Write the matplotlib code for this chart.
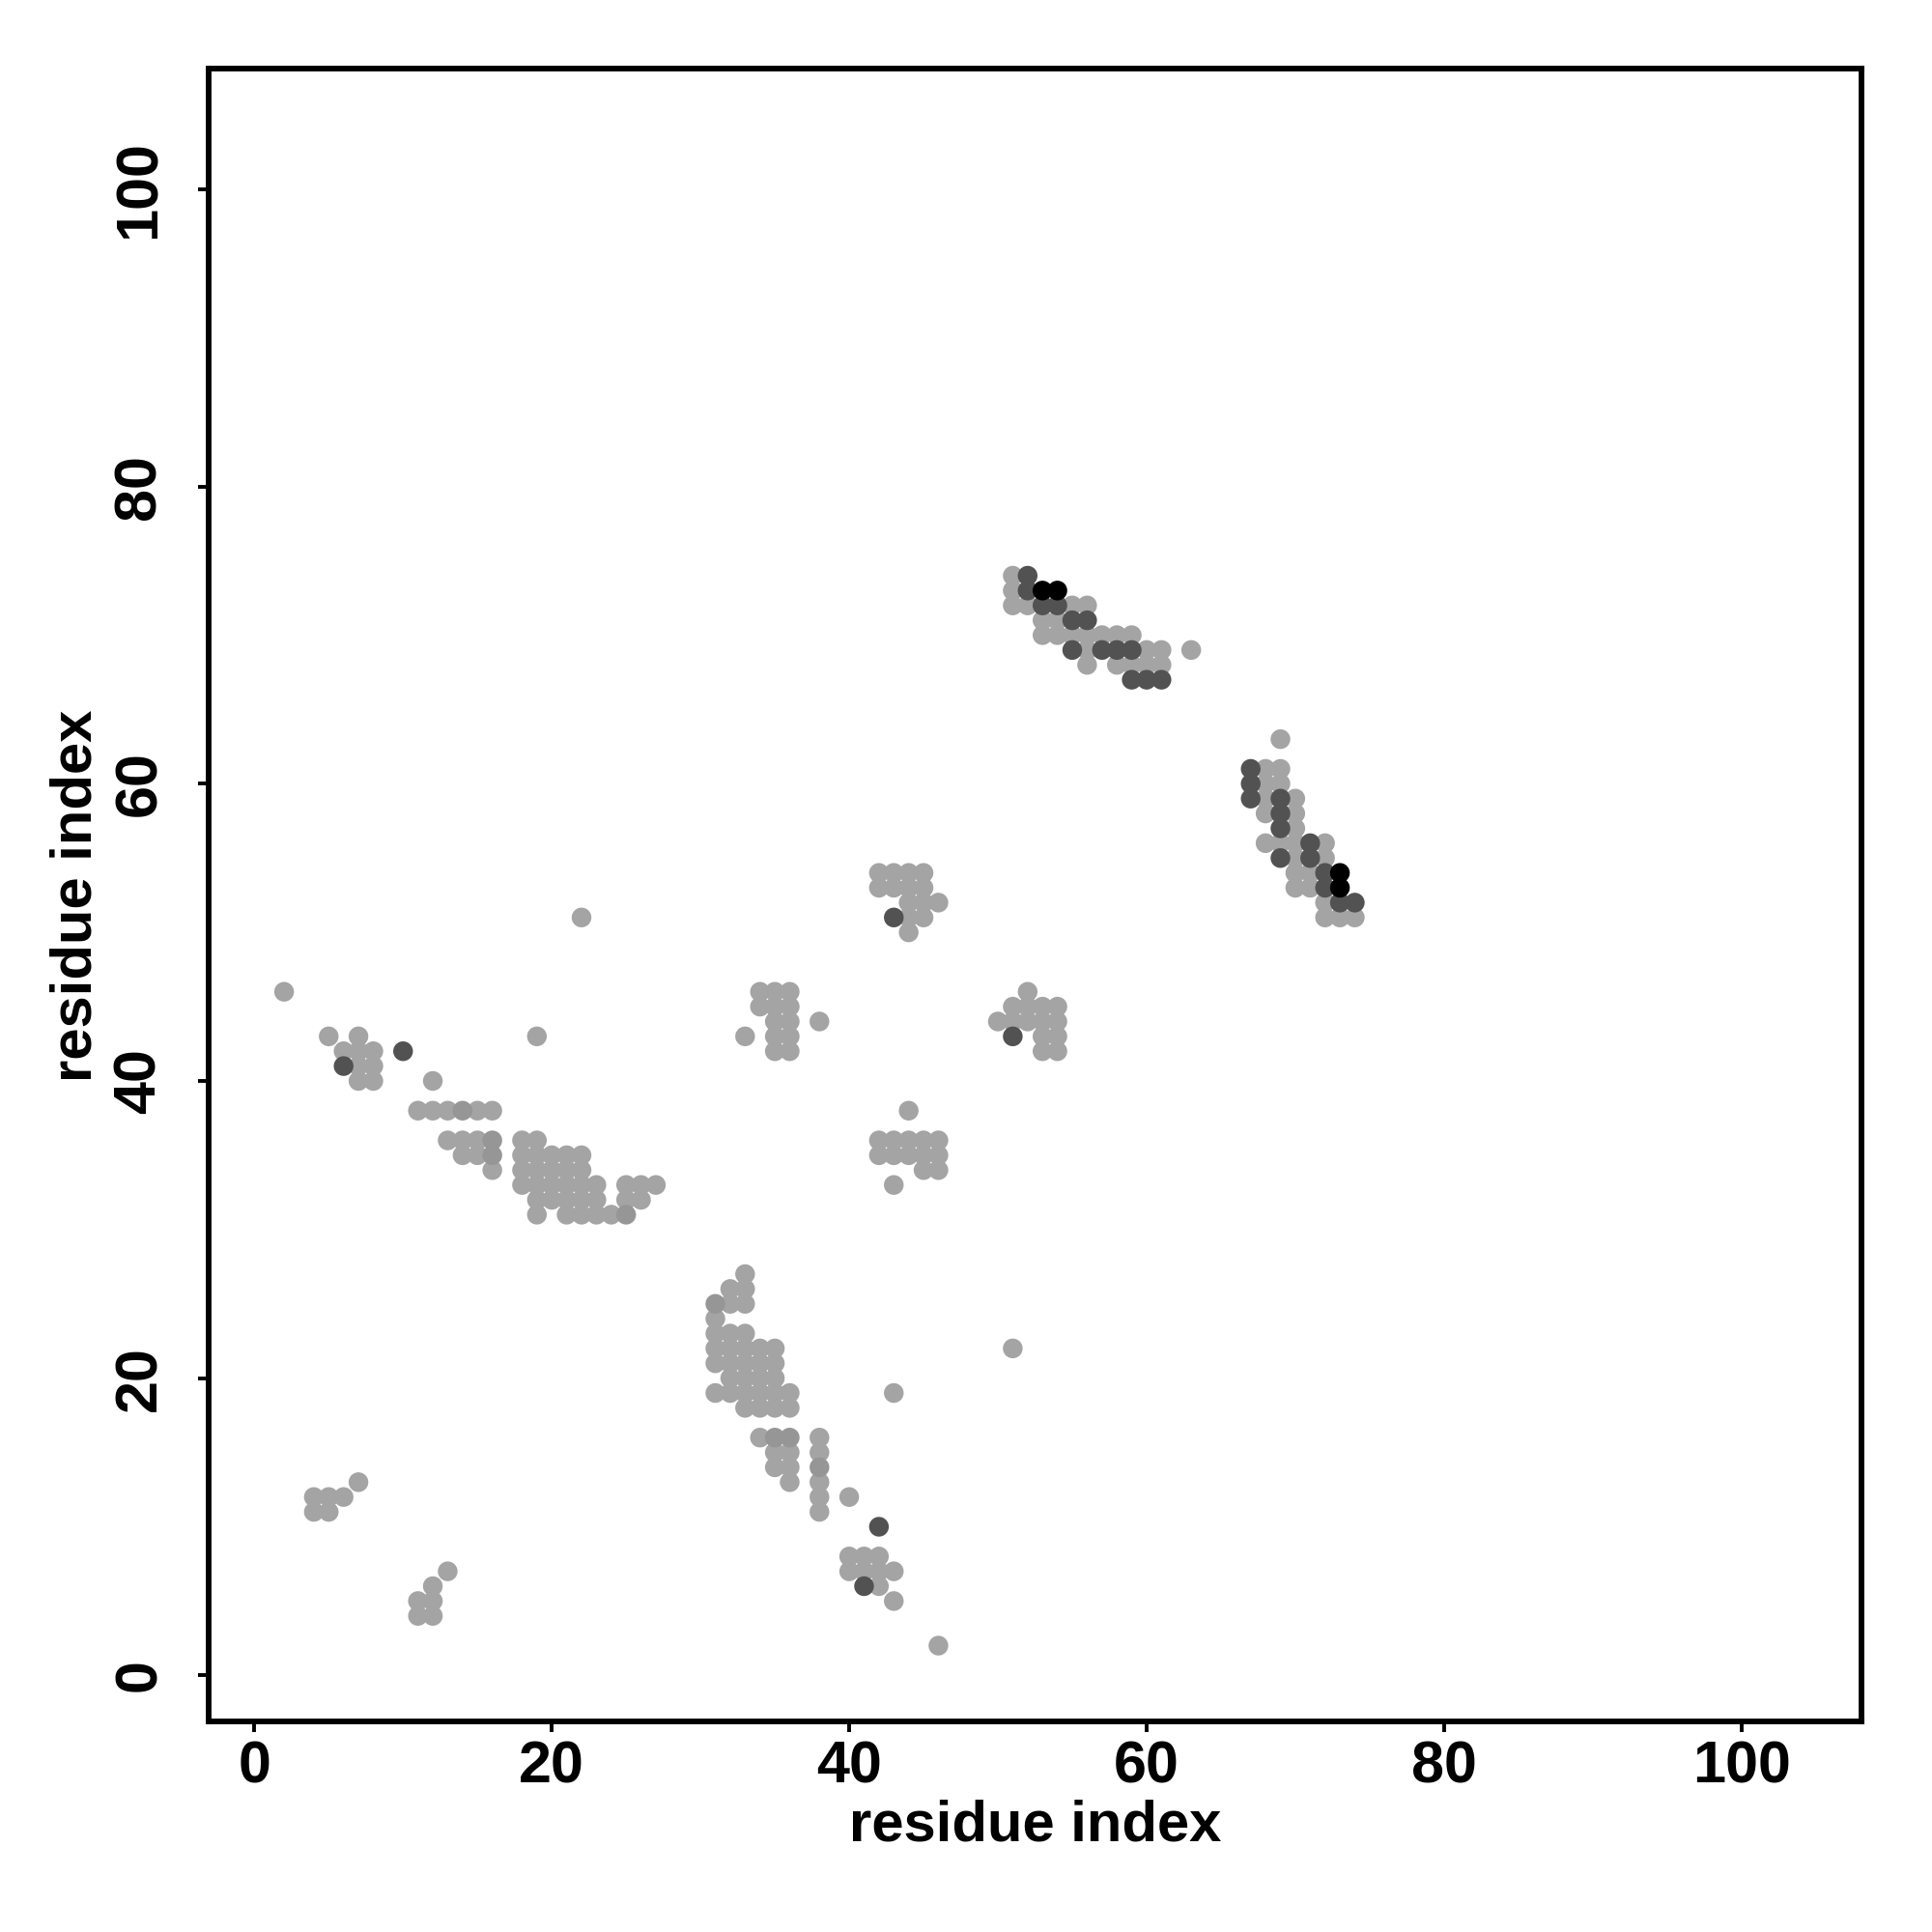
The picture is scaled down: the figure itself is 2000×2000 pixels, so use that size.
import numpy as np
import matplotlib
matplotlib.use("Agg")
import matplotlib.pyplot as plt

# contact map points, grouped by shade (x, y) = (residue i, residue j)
light = [
    # upper strand pair
    (51, 74), (51, 73), (51, 72), (52, 72), (55, 72), (56, 72), (53, 71), (54, 71),
    (53, 70), (54, 70), (55, 70), (56, 70), (57, 70), (58, 70), (59, 70),
    (56, 69), (60, 69), (61, 69), (63, 69), (56, 68), (58, 68), (59, 68), (60, 68), (61, 68),
    # second strand pair
    (69, 63), (68, 61), (69, 61), (68, 60), (69, 60), (68, 59), (70, 59), (68, 58), (70, 58),
    (70, 57), (68, 56), (69, 56), (70, 56), (72, 56), (70, 55), (72, 55), (70, 54), (71, 54),
    (70, 53), (71, 53), (72, 52), (72, 51), (73, 51), (74, 51),
    # left cluster
    (2, 46), (5, 43), (7, 43), (6, 42), (7, 42), (8, 42), (7, 41), (8, 41), (7, 40), (8, 40),
    (12, 40), (11, 38), (12, 38), (13, 38), (15, 38), (16, 38), (13, 36), (14, 36), (15, 36),
    (14, 35), (15, 35), (16, 34), (18, 36), (19, 36),
    (18, 35), (19, 35), (20, 35), (21, 35), (22, 35),
    (18, 34), (19, 34), (20, 34), (21, 34), (22, 34),
    (18, 33), (19, 33), (20, 33), (21, 33), (22, 33), (23, 33), (25, 33), (26, 33), (27, 33),
    (19, 32), (20, 32), (21, 32), (22, 32), (23, 32), (25, 32), (26, 32),
    (19, 31), (21, 31), (22, 31), (23, 31), (24, 31), (19, 43), (22, 51),
    # lower middle cluster
    (33, 27), (32, 26), (33, 26), (32, 25), (33, 25), (31, 24), (31, 23), (32, 23), (33, 23),
    (31, 22), (32, 22), (33, 22), (34, 22), (35, 22),
    (31, 21), (32, 21), (33, 21), (34, 21), (35, 21),
    (32, 20), (33, 20), (34, 20), (35, 20),
    (31, 19), (32, 19), (33, 19), (34, 19), (35, 19), (36, 19),
    (33, 18), (34, 18), (35, 18), (36, 18),
    (34, 16), (38, 16), (35, 15), (36, 15), (38, 15), (35, 14), (36, 14), (36, 13), (38, 13),
    (38, 12), (40, 12), (38, 11), (43, 19), (51, 22),
    (40, 8), (41, 8), (42, 8), (40, 7), (41, 7), (42, 7), (43, 7), (42, 6), (43, 5), (46, 2),
    # middle clusters
    (34, 46), (35, 46), (36, 46), (34, 45), (35, 45), (36, 45), (35, 44), (36, 44), (38, 44),
    (33, 43), (35, 43), (36, 43), (35, 42), (36, 42),
    (42, 54), (43, 54), (44, 54), (45, 54), (42, 53), (43, 53), (44, 53), (45, 53),
    (44, 52), (45, 52), (46, 52), (44, 51), (45, 51), (44, 50),
    (44, 38), (42, 36), (43, 36), (44, 36), (45, 36), (46, 36),
    (42, 35), (43, 35), (44, 35), (45, 35), (46, 35), (45, 34), (46, 34), (43, 33),
    (52, 46), (51, 45), (52, 45), (53, 45), (54, 45),
    (50, 44), (51, 44), (52, 44), (53, 44), (54, 44), (53, 43), (54, 43), (53, 42), (54, 42),
    # bottom left
    (7, 13), (4, 12), (5, 12), (6, 12), (4, 11), (5, 11),
    (13, 7), (12, 6), (11, 5), (12, 5), (11, 4), (12, 4),
]
mid = [(14, 38), (16, 36), (16, 35), (25, 31), (31, 25), (35, 16), (36, 16), (38, 14)]
dark = [
    (52, 74), (52, 73), (53, 72), (54, 72), (55, 71), (56, 71), (55, 69), (57, 69), (58, 69),
    (59, 69), (59, 67), (60, 67), (61, 67),
    (67, 61), (67, 60), (67, 59), (69, 59), (69, 58), (69, 57), (71, 56), (69, 55), (71, 55),
    (72, 54), (72, 53), (73, 52), (74, 52),
    (6, 41), (10, 42), (42, 10), (41, 6), (43, 51), (51, 43),
]
black = [(53, 73), (54, 73), (73, 54), (73, 53)]

ticks = [0, 20, 40, 60, 80, 100]

plt.rcParams['font.family'] = ['Liberation Sans', 'DejaVu Sans']
plt.rcParams['font.weight'] = 'bold'

fig = plt.figure(figsize=(10, 10), dpi=200)
ax = fig.add_axes([0.1078, 0.1090, 0.8559, 0.8553])

for pts, col in [(light, '#a4a4a4'), (mid, '#969696'), (dark, '#525252'), (black, '#000000')]:
    arr = np.array(pts)
    ax.scatter(arr[:, 0], arr[:, 1], s=54, c=col, edgecolors='none', zorder=2)

ax.set_xlim(-3.1, 108.1)
ax.set_ylim(-3.1, 108.1)
ax.set_xticks(ticks)
ax.set_yticks(ticks)
for sp in ax.spines.values():
    sp.set_linewidth(2.1)
ax.tick_params(axis='both', direction='out', length=4, width=1.4, labelsize=22)
ax.tick_params(axis='x', pad=3)
ax.tick_params(axis='y', pad=11, labelrotation=90)
for lab in ax.get_yticklabels():
    lab.set_va('center')
    lab.set_fontweight('bold')
for lab in ax.get_xticklabels():
    lab.set_fontweight('bold')

fig.text(0.5357, 0.055, "residue index", ha='center', va='center', fontsize=21.5, fontweight='bold')
fig.text(0.0395, 0.5365, "residue index", ha='center', va='center', rotation=90,
         fontsize=21.5, fontweight='bold')

fig.savefig("out.png", dpi=200)
